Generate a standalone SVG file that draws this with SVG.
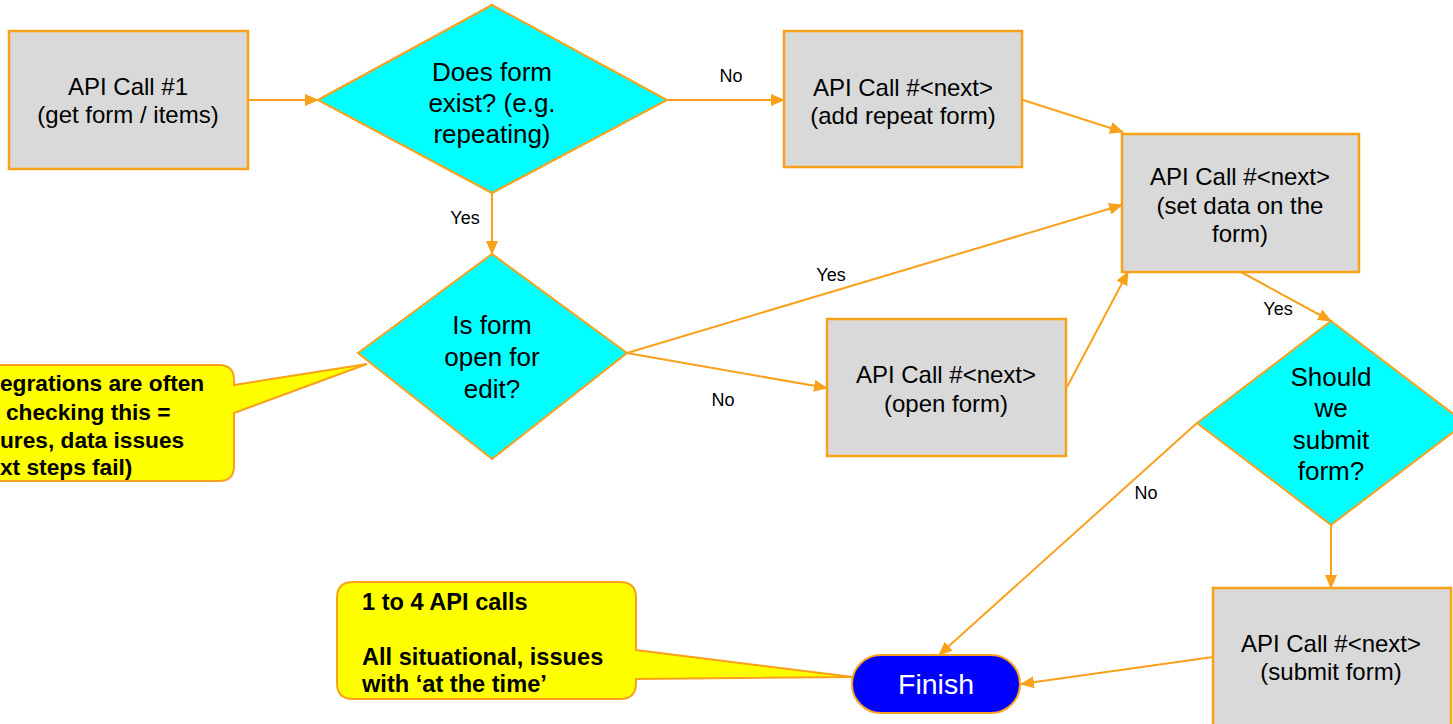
<svg xmlns="http://www.w3.org/2000/svg" width="1453" height="724" viewBox="0 0 1453 724">
<defs>
<marker id="arr" markerWidth="14" markerHeight="12" refX="13" refY="6" orient="auto" markerUnits="userSpaceOnUse">
<path d="M0,0 L14,6 L0,12 Z" fill="#f9a11b"/>
</marker>
<style>
.box{fill:#d9d9d9;stroke:#f9a11b;stroke-width:2.5}
.dia{fill:#00ffff;stroke:#f9a11b;stroke-width:2}
.t{font-family:"Liberation Sans",Arial,sans-serif;font-size:24px;fill:#000;text-anchor:middle}
.td{font-family:"Liberation Sans",Arial,sans-serif;font-size:26px;fill:#000;text-anchor:middle}
.lbl{font-family:"Liberation Sans",Arial,sans-serif;font-size:18px;fill:#000;text-anchor:middle}
.c{font-family:"Liberation Sans",Arial,sans-serif;font-size:22.7px;font-weight:bold;fill:#000}
.c2{font-family:"Liberation Sans",Arial,sans-serif;font-size:23.6px;font-weight:bold;fill:#000}
.call{fill:#ffff00;stroke:#f9a11b;stroke-width:2}
.con{fill:none;stroke:#f9a11b;stroke-width:2}
</style>
</defs>
<rect width="1453" height="724" fill="#ffffff"/>

<g id="connectors">
<line class="con" x1="248" y1="100" x2="318" y2="100" marker-end="url(#arr)"/>
<line class="con" x1="667" y1="100" x2="784" y2="100" marker-end="url(#arr)"/>
<line class="con" x1="492" y1="193" x2="492" y2="254" marker-end="url(#arr)"/>
<line class="con" x1="1023" y1="100" x2="1123" y2="132" marker-end="url(#arr)"/>
<line class="con" x1="627" y1="353" x2="1122" y2="205" marker-end="url(#arr)"/>
<line class="con" x1="627" y1="353" x2="827" y2="388" marker-end="url(#arr)"/>
<line class="con" x1="1067" y1="387" x2="1128" y2="272" marker-end="url(#arr)"/>
<line class="con" x1="1241" y1="272" x2="1331" y2="321" marker-end="url(#arr)"/>
<line class="con" x1="1197" y1="423" x2="939" y2="655" marker-end="url(#arr)"/>
<line class="con" x1="1331" y1="525" x2="1331" y2="588" marker-end="url(#arr)"/>
<line class="con" x1="1213" y1="657" x2="1021" y2="684" marker-end="url(#arr)"/>
<text class="lbl" x="731" y="82">No</text>
<text class="lbl" x="465" y="224">Yes</text>
<text class="lbl" x="831" y="281">Yes</text>
<text class="lbl" x="723" y="406">No</text>
<text class="lbl" x="1278" y="315">Yes</text>
<text class="lbl" x="1146" y="499">No</text>
</g>

<g id="box1">
<rect class="box" x="9" y="31" width="239" height="138"/>
<text class="t" x="128" y="95">API Call #1</text>
<text class="t" x="128" y="123">(get form / items)</text>
</g>

<g id="dec1">
<polygon class="dia" points="318,100 492,5 667,100 492,193"/>
<text class="td" x="492" y="81">Does form</text>
<text class="td" x="492" y="112">exist? (e.g.</text>
<text class="td" x="492" y="143">repeating)</text>
</g>

<g id="box2">
<rect class="box" x="784" y="31" width="238" height="136"/>
<text class="t" x="903" y="96">API Call #&lt;next&gt;</text>
<text class="t" x="903" y="124">(add repeat form)</text>
</g>

<g id="box3">
<rect class="box" x="1122" y="134" width="237" height="138"/>
<text class="t" x="1240" y="185">API Call #&lt;next&gt;</text>
<text class="t" x="1240" y="214">(set data on the</text>
<text class="t" x="1240" y="242">form)</text>
</g>

<g id="dec2">
<polygon class="dia" points="358,353 492,254 627,353 492,459"/>
<text class="td" x="492" y="334">Is form</text>
<text class="td" x="492" y="366">open for</text>
<text class="td" x="492" y="398">edit?</text>
</g>

<g id="box4">
<rect class="box" x="827" y="319" width="239" height="137"/>
<text class="t" x="946" y="383">API Call #&lt;next&gt;</text>
<text class="t" x="946" y="412">(open form)</text>
</g>

<g id="dec3">
<polygon class="dia" points="1197,423 1331,321 1465,423 1331,525"/>
<text class="td" x="1331" y="386">Should</text>
<text class="td" x="1331" y="417">we</text>
<text class="td" x="1331" y="449">submit</text>
<text class="td" x="1331" y="480">form?</text>
</g>

<g id="box5">
<rect class="box" x="1213" y="588" width="238" height="140"/>
<text class="t" x="1331" y="652">API Call #&lt;next&gt;</text>
<text class="t" x="1331" y="680">(submit form)</text>
</g>

<g id="finish">
<rect x="852" y="655" width="168" height="58" rx="29" ry="29" fill="#0000ff" stroke="#f9a11b" stroke-width="2"/>
<text x="936" y="694" font-family="Liberation Sans, Arial, sans-serif" font-size="28.5" fill="#ffffff" text-anchor="middle">Finish</text>
</g>

<g id="callout1">
<path class="call" d="M-20,365 H219 Q234,365 234,380 V385 L367,364 L234,413 V466 Q234,481 219,481 H-20 Z"/>
<text class="c" x="0" y="391">egrations are often</text>
<text class="c" x="6" y="420">checking this =</text>
<text class="c" x="0" y="448">ures, data issues</text>
<text class="c" x="0" y="475">xt steps fail)</text>
</g>

<g id="callout2">
<path class="call" d="M353,582 H620 Q636,582 636,598 V650 L853,677 L636,679 V683 Q636,699 620,699 H353 Q337,699 337,683 V598 Q337,582 353,582 Z"/>
<text class="c2" x="362" y="610">1 to 4 API calls</text>
<text class="c2" x="362" y="665">All situational, issues</text>
<text class="c2" x="362" y="692">with ‘at the time’</text>
</g>
</svg>
